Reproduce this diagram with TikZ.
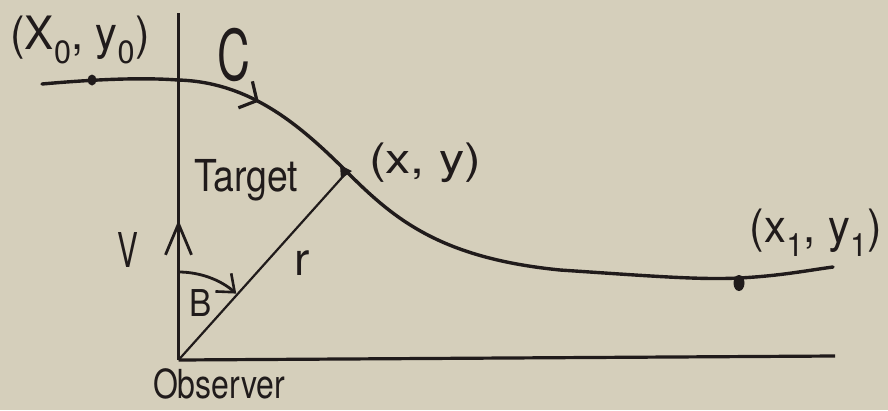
\documentclass[tikz,border=0pt]{standalone}
\usepackage{fontspec}
\setmainfont{TeX Gyre Heros}
\usetikzlibrary{arrows.meta,decorations.markings}
\definecolor{paper}{RGB}{213,207,187}
\definecolor{ink}{RGB}{32,27,27}
\tikzset{
  axisline/.style={draw=ink,line width=3.2pt},
  curveline/.style={draw=ink,line width=3.4pt,line cap=round},
  thinline/.style={draw=ink,line width=2.2pt},
  lbl/.style={text=ink,inner sep=0pt,anchor=center},
  dotmark/.style={fill=ink,draw=none},
}
\begin{document}
\begin{tikzpicture}[x=1pt,y=-1pt]
\fill[paper] (0,0) rectangle (888,410);
\useasboundingbox (0,0) rectangle (888,410);

% coordinates
\coordinate (O) at (178.5,360);
\coordinate (Ytop) at (178.5,13);
\coordinate (Xend) at (835,356);
\coordinate (S) at (42,84);
\coordinate (P0) at (92,80);
\coordinate (A) at (178,80);
\coordinate (P) at (347,172);
\coordinate (M) at (560,270);
\coordinate (P1) at (739,278);
\coordinate (E) at (833,267);
\coordinate (Bs) at (178.5,272);

% axes
\draw[axisline] (O) -- (Xend);
\draw[axisline,
  postaction={decorate,decoration={markings,
    mark=at position 0.403 with {\arrow[ink,line width=2.8pt]{Straight Barb[length=31pt,width=26pt]}}}}]
  (O) -- (Ytop);

% curve C
\draw[curveline,
  postaction={decorate,decoration={markings,
    mark=at position 0.26 with {\arrow[ink,line width=3.2pt]{Straight Barb[length=13pt,width=30pt]}}}}]
  (S) .. controls (110,78) and (150,78) .. (A)
      .. controls (250,82) and (300,125) .. (P)
      .. controls (394,219) and (440,258) .. (M)
      .. controls (650,276) and (700,280) .. (P1)
      .. controls (780,276) and (810,270) .. (E);

% line r
\draw[thinline] (O) -- (P);

% angle B
\draw[draw=ink,line width=2.8pt,-{Straight Barb[length=15pt,width=24pt,line width=2.6pt]}] (Bs) arc[start angle=-90,end angle=-49,radius=88];

% point marks
\fill[dotmark] (P0) ellipse[x radius=4.5pt,y radius=5.5pt];
\fill[dotmark] (739,283) ellipse[x radius=5.5pt,y radius=8pt];
\fill[dotmark] (340,165) -- (352,171) -- (341,179) -- cycle;

% labels
\node[lbl,font=\fontsize{46}{46}\selectfont,xscale=0.95] (l0) at (80,40) {(X\textsubscript{0}, y\textsubscript{0})};
\node[lbl,font=\fontsize{70}{70}\selectfont,xscale=0.65] (lC) at (234,55) {C};
\node[lbl,font=\fontsize{44}{44}\selectfont,xscale=0.85] (lT) at (246,180) {Target};
\node[lbl,font=\fontsize{42}{42}\selectfont,xscale=1.2] (lP) at (425,163) {(x, y)};
\node[lbl,font=\fontsize{46}{46}\selectfont,xscale=0.95] (lP1) at (816,233) {(x\textsubscript{1}, y\textsubscript{1})};
\node[lbl,font=\fontsize{48}{48}\selectfont,xscale=0.65] (lV) at (128,250) {V};
\node[lbl,font=\fontsize{46}{46}\selectfont] (lr) at (302,263) {r};
\node[lbl,font=\fontsize{37}{37}\selectfont,xscale=0.9] (lB) at (201,303) {B};
\node[lbl,font=\fontsize{40}{40}\selectfont,xscale=0.8] (lO) at (219,384) {Observer};
\end{tikzpicture}
\end{document}
